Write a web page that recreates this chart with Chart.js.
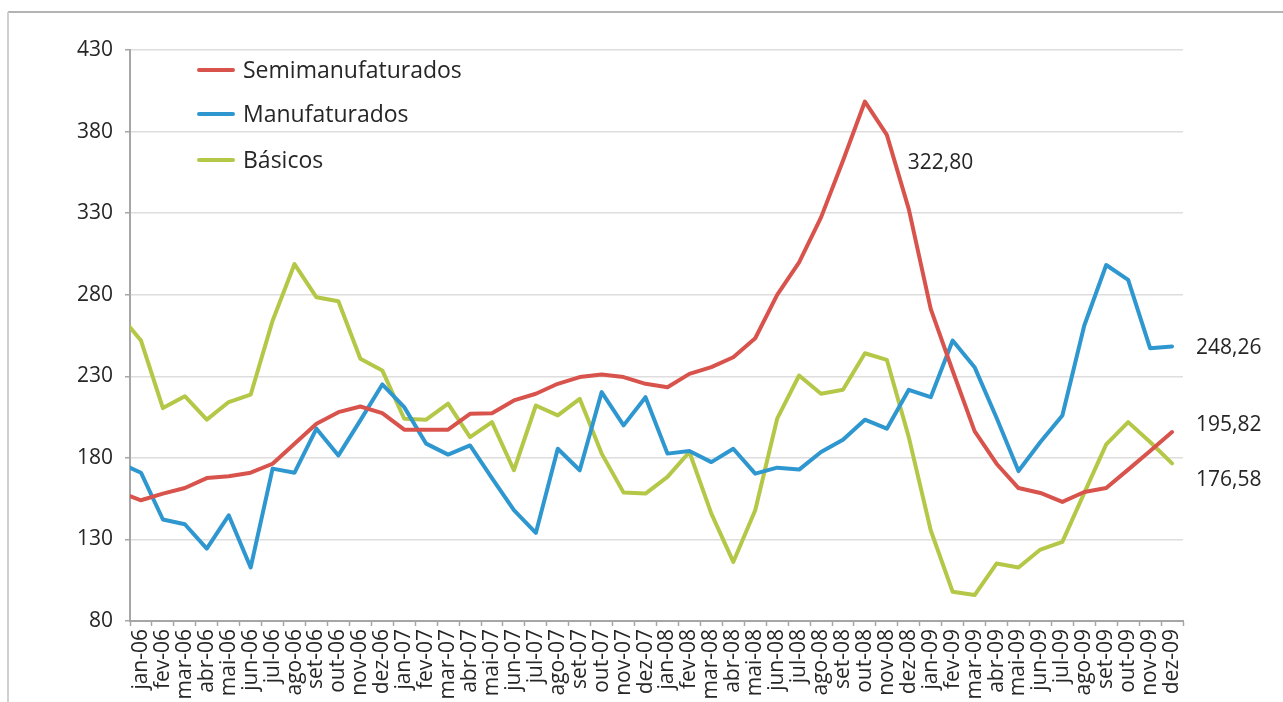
<!DOCTYPE html>
<html>
<head>
<meta charset="utf-8">
<script src="https://cdn.jsdelivr.net/npm/chart.js@4.4.1/dist/chart.umd.min.js"></script>
<style>
  html, body { margin: 0; padding: 0; background: #ffffff; }
  #wrap { position: relative; width: 1283px; height: 702px; }
</style>
</head>
<body>
<div id="wrap"><canvas id="c"></canvas></div>
<script>
// ---- data ----
// 'dez-05' is the partial segment visible at the left edge of the plot (clipped by the axis)
const categories = [
  'dez-05',
  'jan-06','fev-06','mar-06','abr-06','mai-06','jun-06','jul-06','ago-06','set-06','out-06','nov-06','dez-06',
  'jan-07','fev-07','mar-07','abr-07','mai-07','jun-07','jul-07','ago-07','set-07','out-07','nov-07','dez-07',
  'jan-08','fev-08','mar-08','abr-08','mai-08','jun-08','jul-08','ago-08','set-08','out-08','nov-08','dez-08',
  'jan-09','fev-09','mar-09','abr-09','mai-09','jun-09','jul-09','ago-09','set-09','out-09','nov-09','dez-09'
];
const semimanufaturados = [
  159,
  154, 158.1, 161.5, 167.6, 168.7, 170.9, 176.4, 188.7, 200.9, 208, 211.5, 207.4,
  197.3, 197.3, 197.3, 207, 207.4, 215.2, 219.3, 225.4, 229.5, 231.1, 229.5, 225.4,
  223.3, 231.5, 235.6, 241.7, 253.3, 279.9, 299.8, 327.4, 362.1, 398.4, 378, 332.5,
  271.3, 233.4, 196.4, 176.4, 161.5, 158.5, 153, 159.1, 161.5, 172.8, 184.2, 195.82
];
const manufaturados = [
  177,
  170.9, 142.2, 139.3, 124.4, 144.8, 112.8, 173.4, 170.9, 197.9, 181.5, 203, 225,
  211.1, 188.7, 182, 187.6, 167.6, 147.9, 134, 185.6, 172.4, 220.3, 199.9, 217.2,
  182.6, 184.2, 177.4, 185.6, 170.3, 174, 172.8, 183.6, 191.1, 203.4, 197.9, 221.7,
  217.2, 251.9, 235.6, 204.6, 171.9, 189.7, 206, 261.1, 298.2, 289.1, 247.2, 248.26
];
const basicos = [
  268,
  251.9, 210.5, 217.8, 203.4, 214.2, 218.7, 264.1, 298.8, 278.4, 276, 240.7, 233.6,
  204, 203.4, 213.2, 192.7, 201.9, 172.4, 212.1, 206, 216.2, 182.6, 158.7, 158.1,
  168.3, 183.6, 145.8, 116.2, 147.9, 204, 230.5, 219.3, 221.7, 244.1, 240.1, 192.7,
  135.6, 97.9, 95.9, 115.2, 112.8, 123.8, 128.5, 158.5, 188.3, 201.9, 189.7, 176.58
];
const seriesNames = ['Semimanufaturados', 'Manufaturados', 'Básicos'];
const yMin = 80, yMax = 430, yStep = 50;
const firstVisible = 'jan-06', lastVisible = 'dez-09';
const noteText = '322,80';
const noteCategory = 'nov-08';
const noteValue = 361;

// ---- styles ----
const colors = ['#d9534d', '#2f97cf', '#b5c747'];
const endLabelDy = [-7, 2, 17];
const FONT = "'Open Sans', 'Noto Sans', sans-serif";
const textColor = '#262626';

const overlay = {
  id: 'overlay',
  beforeDraw(chart) {
    const ctx = chart.ctx;
    ctx.save();
    ctx.strokeStyle = '#b3b3b3';
    ctx.lineWidth = 2;
    ctx.beginPath();
    ctx.moveTo(8, 12); ctx.lineTo(1283, 12);
    ctx.stroke();
    ctx.strokeStyle = '#d0d0d0';
    ctx.beginPath();
    ctx.moveTo(8, 12); ctx.lineTo(8, 702);
    ctx.stroke();
    ctx.restore();
  },
  afterDatasetsDraw(chart) {
    const ctx = chart.ctx;
    const a = chart.chartArea;
    const xs = chart.scales.x, ys = chart.scales.y;
    ctx.save();
    // legend
    const rows = [20, 64, 110];
    chart.data.datasets.forEach((ds, i) => {
      const y = a.top + rows[i];
      ctx.strokeStyle = ds.borderColor;
      ctx.lineWidth = 4;
      ctx.lineCap = 'round';
      ctx.beginPath();
      ctx.moveTo(a.left + 69, y);
      ctx.lineTo(a.left + 103, y);
      ctx.stroke();
      ctx.fillStyle = textColor;
      ctx.font = "23px " + FONT;
      ctx.textAlign = 'left';
      ctx.textBaseline = 'middle';
      ctx.fillText(ds.label, a.left + 113, y + 1);
    });
    // end-of-series value labels
    ctx.font = "21px " + FONT;
    chart.data.datasets.forEach((ds, i) => {
      const meta = chart.getDatasetMeta(i);
      const pt = meta.data[meta.data.length - 1];
      const v = ds.data[ds.data.length - 1];
      ctx.fillStyle = textColor;
      ctx.fillText(v.toFixed(2).replace('.', ','), pt.x + 24, pt.y + endLabelDy[i]);
    });
    // note
    ctx.fillText(noteText, xs.getPixelForValue(categories.indexOf(noteCategory)) + 21, ys.getPixelForValue(noteValue));
    ctx.restore();
  }
};

new Chart(document.getElementById('c'), {
  type: 'line',
  data: {
    labels: categories,
    datasets: [
      { label: seriesNames[0], data: semimanufaturados, borderColor: colors[0] },
      { label: seriesNames[1], data: manufaturados, borderColor: colors[1] },
      { label: seriesNames[2], data: basicos, borderColor: colors[2] }
    ].map(d => Object.assign(d, {
      borderWidth: 4, pointRadius: 0, tension: 0, fill: false, clip: 0,
      borderJoinStyle: 'round', borderCapStyle: 'round'
    }))
  },
  options: {
    responsive: true,
    maintainAspectRatio: false,
    animation: false,
    events: [],
    layout: { padding: { top: 50, right: 100, bottom: 0, left: 0 } },
    plugins: { legend: { display: false }, tooltip: { enabled: false } },
    scales: {
      x: {
        type: 'category',
        min: firstVisible,
        max: lastVisible,
        offset: true,
        grid: { display: true, offset: true, drawOnChartArea: false, drawTicks: true, tickLength: 5, tickColor: '#a6a6a6', tickWidth: 1.5 },
        border: { display: true, color: '#a6a6a6', width: 2 },
        ticks: {
          autoSkip: false, minRotation: 90, maxRotation: 90, padding: 3,
          color: textColor, font: { family: FONT, size: 21 }
        },
        afterFit(s) { s.height = 81; }
      },
      y: {
        min: yMin, max: yMax,
        grid: { color: '#dedede', lineWidth: 1.5, drawTicks: true, tickLength: 5, tickColor: '#a6a6a6', tickWidth: 1.5 },
        border: { display: true, color: '#a6a6a6', width: 2 },
        ticks: { stepSize: yStep, padding: 12, color: textColor, font: { family: FONT, size: 21 } },
        afterFit(s) { s.width = 130; }
      }
    }
  },
  plugins: [overlay]
});
</script>
</body>
</html>
